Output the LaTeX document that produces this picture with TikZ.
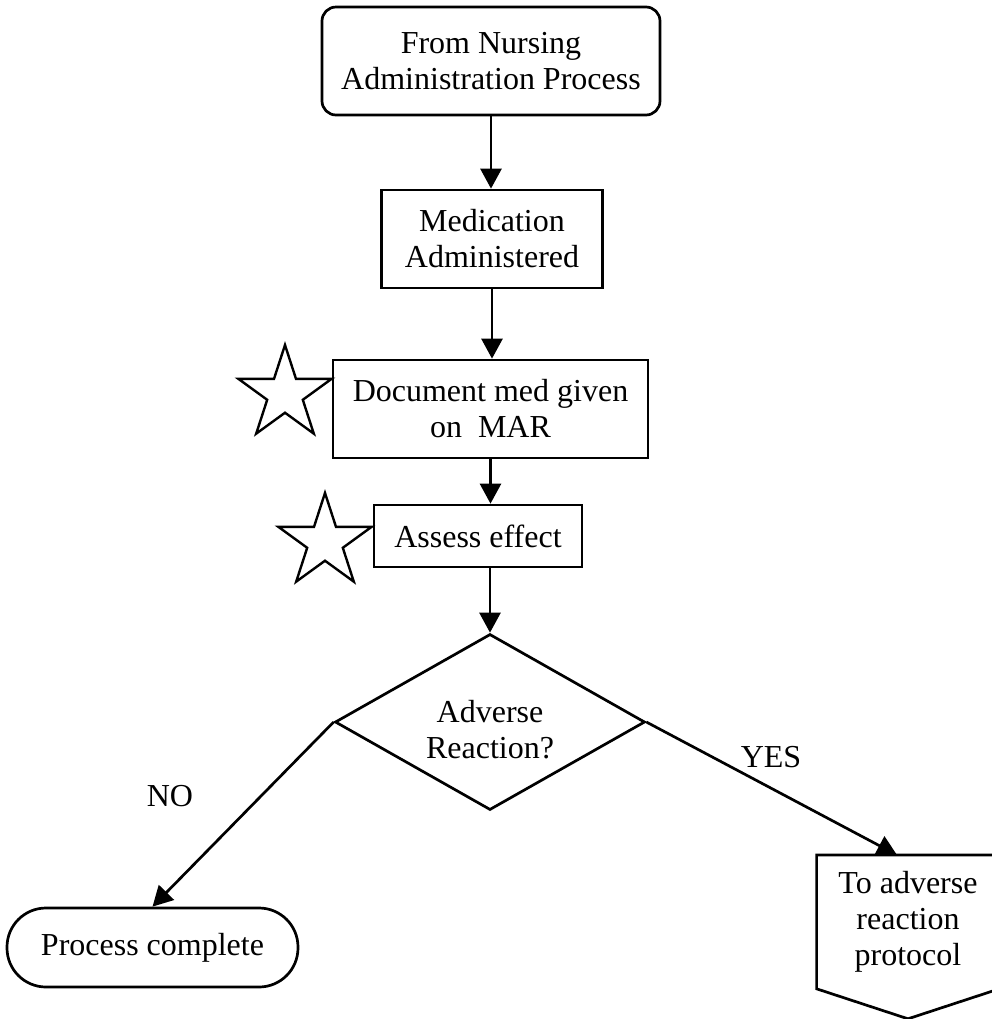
\documentclass[tikz,border=0pt]{standalone}
\usepackage{fontspec}
\setmainfont{Liberation Serif}
\usetikzlibrary{arrows.meta,shapes.geometric,calc}
\begin{document}
\begin{tikzpicture}[x=0.5pt,y=-0.5pt,
  every node/.style={font=\fontsize{16}{18}\selectfont, align=center, inner sep=0pt},
  box/.style={draw, line width=1.35pt},
  conn/.style={line width=1.35pt, -{Triangle[length=10pt,width=10.5pt]}},
  starshape/.style={draw, line width=1.2pt, star, star points=5, star point ratio=2.618, minimum size=49pt, inner sep=0pt}]
\useasboundingbox (0,0) rectangle (992,1019);
\node[box, rounded corners=7pt, minimum width=169pt, minimum height=54pt] (top) at (491,61) {From Nursing\\Administration Process};
\node[box, minimum width=110.5pt, minimum height=49pt] (med) at (492,239) {Medication\\Administered};
\node[box, minimum width=157.5pt, minimum height=49pt] (doc) at (490.5,409) {Document med given\\on~ MAR};
\node[box, minimum width=104pt, minimum height=31pt] (assess) at (478,536) {Assess effect};
\node[box, diamond, minimum width=155pt, minimum height=88pt] (dec) at (490,722) {};
\node (dectext) at (490,730) {Adverse\\Reaction?};
\node[box, rounded corners=19.5pt, minimum width=145.5pt, minimum height=39.5pt] (term) at (152.5,947.5) {Process complete};
\node[minimum width=91pt, minimum height=66.5pt, anchor=north] (off) at (908,855) {To adverse\\reaction\\protocol};
\draw[line width=1.35pt] (off.north west) -- (off.north east) -- (off.south east) -- ($(off.south)+(0,30)$) -- (off.south west) -- cycle;
\node[starshape] (star1) at (285,394) {};
\node[starshape] (star2) at (325,542) {};
\draw[conn] (top.south) -- (top.south |- med.north);
\draw[conn] (med.south) -- (med.south |- doc.north);
\draw[conn] (doc.south) -- (doc.south |- assess.north);
\draw[conn] (dec.north |- assess.south) -- (dec.north);
\draw[conn] (dec.west) -- (term.north);
\draw[conn] (dec.east) -- ([xshift=-5.5pt]off.north);
\node (no) at (170,796) {NO};
\node (yes) at (771,757) {YES};
\end{tikzpicture}
\end{document}
